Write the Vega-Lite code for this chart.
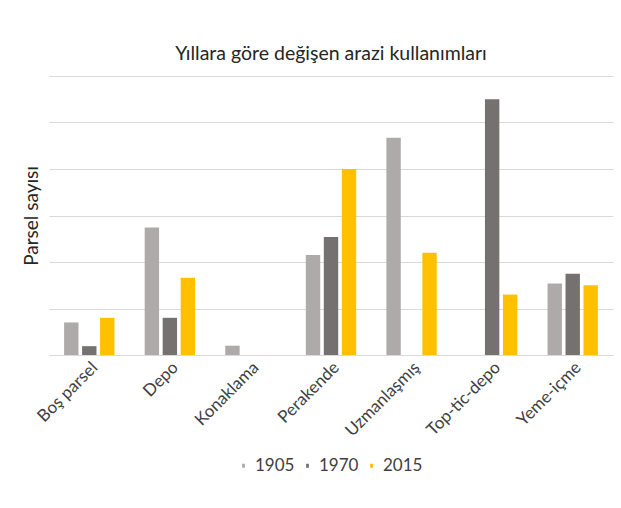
{
  "$schema": "https://vega.github.io/schema/vega-lite/v6.json",
  "width": 564,
  "height": 279,
  "autosize": {"type": "none"},
  "padding": {"left": 49, "top": 76, "right": 8, "bottom": 153},
  "background": "white",
  "title": {
    "text": "Yıllara göre değişen arazi kullanımları",
    "font": "Lato",
    "fontSize": 19.5,
    "fontWeight": "normal",
    "color": "#262626",
    "offset": 12,
    "anchor": "middle"
  },
  "data": {
    "values": [
      {"kategori": "Boş parsel", "yil": "1905", "deger": 7},
      {"kategori": "Boş parsel", "yil": "1970", "deger": 1.9},
      {"kategori": "Boş parsel", "yil": "2015", "deger": 8},
      {"kategori": "Depo", "yil": "1905", "deger": 27.4},
      {"kategori": "Depo", "yil": "1970", "deger": 8},
      {"kategori": "Depo", "yil": "2015", "deger": 16.6},
      {"kategori": "Konaklama", "yil": "1905", "deger": 2},
      {"kategori": "Konaklama", "yil": "1970", "deger": 0},
      {"kategori": "Konaklama", "yil": "2015", "deger": 0},
      {"kategori": "Perakende", "yil": "1905", "deger": 21.5},
      {"kategori": "Perakende", "yil": "1970", "deger": 25.4},
      {"kategori": "Perakende", "yil": "2015", "deger": 40},
      {"kategori": "Uzmanlaşmış", "yil": "1905", "deger": 46.7},
      {"kategori": "Uzmanlaşmış", "yil": "1970", "deger": 0},
      {"kategori": "Uzmanlaşmış", "yil": "2015", "deger": 22},
      {"kategori": "Top-tic-depo", "yil": "1905", "deger": 0},
      {"kategori": "Top-tic-depo", "yil": "1970", "deger": 55},
      {"kategori": "Top-tic-depo", "yil": "2015", "deger": 13},
      {"kategori": "Yeme-içme", "yil": "1905", "deger": 15.4},
      {"kategori": "Yeme-içme", "yil": "1970", "deger": 17.5},
      {"kategori": "Yeme-içme", "yil": "2015", "deger": 15}
    ]
  },
  "mark": {"type": "bar"},
  "encoding": {
    "x": {
      "field": "kategori",
      "type": "nominal",
      "sort": null,
      "scale": {"paddingInner": 0, "paddingOuter": 0},
      "axis": {
        "title": null,
        "labelAngle": -45,
        "labelAlign": "right",
        "labelBaseline": "top",
        "labelFont": "Lato",
        "labelFontSize": 17,
        "labelColor": "#404040",
        "labelPadding": 4,
        "ticks": false,
        "domainColor": "#d9d9d9",
        "grid": false
      }
    },
    "xOffset": {
      "field": "yil",
      "type": "nominal",
      "scale": {"paddingInner": 0.2, "paddingOuter": 0.84}
    },
    "y": {
      "field": "deger",
      "type": "quantitative",
      "scale": {"domain": [0, 60], "nice": false},
      "axis": {
        "title": "Parsel sayısı",
        "titleFont": "Lato",
        "titleFontSize": 19,
        "titleFontWeight": "normal",
        "titleColor": "#262626",
        "titlePadding": 8,
        "values": [0, 10, 20, 30, 40, 50, 60],
        "labels": false,
        "ticks": false,
        "domain": false,
        "grid": true,
        "gridColor": "#d9d9d9",
        "gridWidth": 1
      }
    },
    "color": {
      "field": "yil",
      "type": "nominal",
      "scale": {"domain": ["1905", "1970", "2015"], "range": ["#aeaaaa", "#767171", "#ffc000"]},
      "legend": {
        "title": null,
        "orient": "none",
        "legendX": 186,
        "legendY": 381,
        "direction": "horizontal",
        "symbolType": "M-0.35,-0.5H0.35V0.5H-0.35Z",
        "symbolSize": 64,
        "symbolStrokeWidth": 0,
        "labelFont": "Lato",
        "labelFontSize": 17,
        "labelColor": "#404040",
        "labelOffset": 3,
        "columnPadding": 4
      }
    }
  },
  "config": {
    "view": {"stroke": null}
  }
}
